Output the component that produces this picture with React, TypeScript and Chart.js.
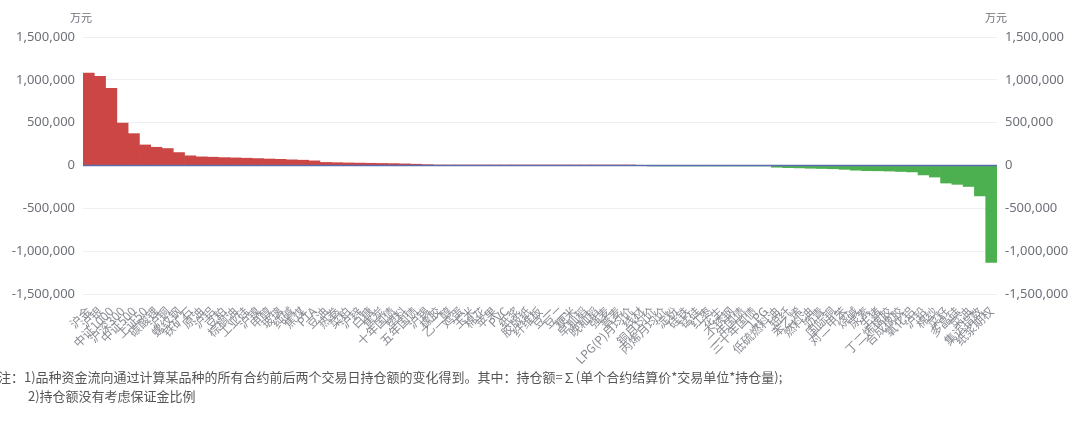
import React, { useEffect, useRef } from "react";
import { Chart, registerables } from "chart.js";

Chart.register(...registerables);

const categories: string[] = [
  "沪金", "沪银", "中证1000", "沪深300", "中证500", "上证50", "碳酸锂", "沪铜", "螺纹钢", "铁矿石",
  "原油", "沪铝", "豆粕", "棕榈油", "工业硅", "沪镍", "甲醇", "玻璃", "纯碱", "焦煤",
  "PTA", "豆油", "热卷", "菜粕", "沪锌", "白糖", "焦炭", "十年国债", "塑料", "五年国债",
  "沪锡", "橡胶", "乙二醇", "鸡蛋", "玉米", "棉花", "苹果", "PVC", "纸浆", "胶版纸",
  "纤维板", "豆一", "豆二", "粳米", "早籼稻", "晚籼稻", "强麦", "普麦", "LPG(P)月均价", "线材",
  "铜月均价", "丙烯月均价", "淀粉", "硅铁", "锰硅", "红枣", "花生", "不锈钢", "二年国债", "三十年国债",
  "LPG", "低硫燃料油", "短纤", "苯乙烯", "燃料油", "沥青", "国际铜", "对二甲苯", "烧碱", "尿素",
  "生猪", "丁二烯橡胶", "合成橡胶", "氧化铝", "沪铅", "棉纱", "菜籽", "多晶硅", "菜油", "集运指数", "纸浆期权"
];

const values: number[] = [
  1080000, 1040000, 900000, 495000, 372000, 240000, 213000, 198000, 151000, 113000,
  101000, 97000, 92000, 89000, 85000, 81000, 76000, 72000, 66000, 62000,
  54000, 36000, 33000, 30000, 28000, 26000, 24000, 22000, 19000, 15000,
  10000, 6000, 3000, 2000, 1500, 1200, 900, 700, 500, 400,
  300, 200, 150, 100, 80, 50, 30, 20, 10, 0,
  -10, -30, -60, -100, -200, -400, -600, -900, -1200, -1800,
  -3000, -20000, -25000, -28000, -32000, -35000, -38000, -45000, -55000, -60000,
  -62000, -65000, -70000, -75000, -110000, -135000, -205000, -220000, -245000, -355000,
  -1130000
];

const yMin = -1500000;
const yMax = 1500000;
const yStep = 500000;

const unitLabel = "万元";
const noteLines: string[] = [
  "注：1)品种资金流向通过计算某品种的所有合约前后两个交易日持仓额的变化得到。其中：持仓额=∑(单个合约结算价*交易单位*持仓量);",
  "2)持仓额没有考虑保证金比例",
];

const POS_COLOR = "#cc4646";
const NEG_COLOR = "#4caf50";
const ZERO_COLOR = "#5b6cae";
const TICK_COLOR = "#6e7079";
const GRID_COLOR = "#eef0f6";

const zeroLinePlugin = {
  id: "zeroLine",
  afterDatasetsDraw(chart: any) {
    const y = chart.scales.y.getPixelForValue(0);
    const { left, right } = chart.chartArea;
    const ctx = chart.ctx;
    ctx.save();
    ctx.strokeStyle = ZERO_COLOR;
    ctx.lineWidth = 1.5;
    ctx.beginPath();
    ctx.moveTo(left, y);
    ctx.lineTo(right, y);
    ctx.stroke();
    ctx.restore();
  },
};

const fmt = (v: any) => Number(v).toLocaleString("en-US");

export default function App() {
  const ref = useRef<HTMLCanvasElement | null>(null);

  useEffect(() => {
    document.body.style.margin = "0";
    if (!ref.current) return;
    const colors = values.map((v) => (v >= 0 ? POS_COLOR : NEG_COLOR));
    const yTicks = {
      stepSize: yStep,
      color: TICK_COLOR,
      font: { size: 13, family: "'Noto Sans', sans-serif" },
      padding: 8,
      callback: fmt,
    };
    const chart = new Chart(ref.current, {
      type: "bar",
      data: {
        labels: categories,
        datasets: [
          {
            data: values,
            backgroundColor: colors,
            borderWidth: 0,
            barPercentage: 1,
            categoryPercentage: 1,
            yAxisID: "y",
          },
        ],
      },
      options: {
        animation: false,
        responsive: true,
        maintainAspectRatio: false,
        layout: { padding: { top: 37, left: 0, right: 0, bottom: 0 } },
        plugins: { legend: { display: false }, tooltip: { enabled: false } },
        scales: {
          x: {
            grid: { display: false },
            border: { display: false },
            ticks: {
              autoSkip: false,
              maxRotation: 45,
              minRotation: 45,
              color: "#8a8c93",
              font: { size: 12, family: "'Noto Sans CJK SC', sans-serif" },
              padding: 2,
            },
            afterFit: (s: any) => {
              s.height = 76;
            },
          },
          y: {
            position: "left",
            min: yMin,
            max: yMax,
            grid: { color: GRID_COLOR, drawTicks: false },
            border: { display: false },
            ticks: yTicks,
            afterFit: (s: any) => {
              s.width = 83;
            },
          },
          y2: {
            position: "right",
            min: yMin,
            max: yMax,
            grid: { drawOnChartArea: false, drawTicks: false },
            border: { display: false },
            ticks: yTicks,
            afterFit: (s: any) => {
              s.width = 83;
            },
          },
        },
      } as any,
      plugins: [zeroLinePlugin],
    });
    return () => chart.destroy();
  }, []);

  const textStyle: React.CSSProperties = {
    position: "absolute",
    fontFamily: "'Noto Sans CJK SC', sans-serif",
    whiteSpace: "nowrap",
  };

  return (
    <div style={{ position: "relative", width: 1080, height: 425, background: "#fff", overflow: "hidden" }}>
      <div style={{ position: "absolute", left: 0, top: 0, width: 1080, height: 370 }}>
        <canvas ref={ref} />
      </div>
      <div style={{ ...textStyle, left: 70, top: 9, fontSize: 11, color: TICK_COLOR }}>{unitLabel}</div>
      <div style={{ ...textStyle, left: 985, top: 9, fontSize: 11, color: TICK_COLOR }}>{unitLabel}</div>
      <div style={{ ...textStyle, left: -2, top: 367, fontSize: 13, color: "#555", lineHeight: "19px" }}>
        <div>{noteLines[0]}</div>
        <div style={{ paddingLeft: 30 }}>{noteLines[1]}</div>
      </div>
    </div>
  );
}
